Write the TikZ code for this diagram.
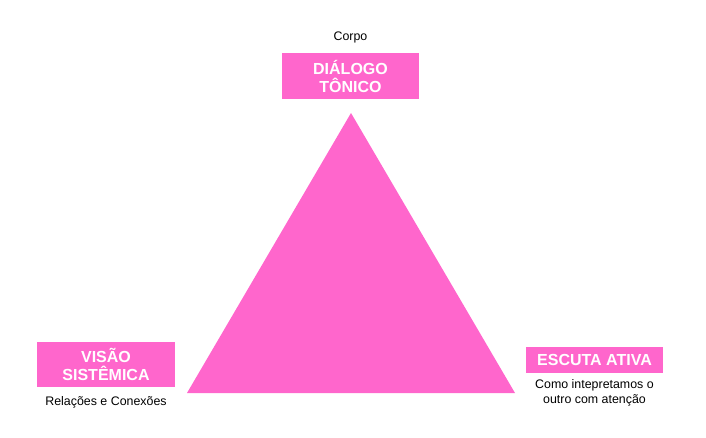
\documentclass[tikz,border=0pt]{standalone}
\usepackage{fontspec}
\setmainfont{Liberation Sans}
\usetikzlibrary{positioning}
\definecolor{rosa}{HTML}{FF66CC}

\begin{document}
\begin{tikzpicture}[x=1pt, y=-1pt,
  caixa/.style={fill=rosa, text=white, font=\fontsize{16}{18}\selectfont\bfseries, align=center, inner sep=0pt},
  legenda/.style={font=\fontsize{12.4}{15}\selectfont, align=center, inner sep=0pt}]

  \useasboundingbox (0,0) rectangle (706,438);

  % triangulo
  \coordinate (topo) at (351,113);
  \coordinate (esq) at (187,393);
  \coordinate (dir) at (515,393);
  \fill[rosa] (topo) -- (esq) -- (dir) -- cycle;

  \node[caixa, minimum width=137, minimum height=46] (dialogo) at (350.5,76) {DIÁLOGO\\TÔNICO};
  \node[legenda] (corpo) at (350.5,37) {Corpo};

  \node[caixa, minimum width=138, minimum height=45] (visao) at (106,364.5) {VISÃO\\SISTÊMICA};
  \node[legenda, below=9pt of visao] (relacoes) {Relações e Conexões};

  \node[caixa, minimum width=137, minimum height=26] (escuta) at (594.5,360) {ESCUTA ATIVA};
  \node[legenda, below=6pt of escuta] (como) {Como intepretamos o\\outro com atenção};

\end{tikzpicture}
\end{document}
